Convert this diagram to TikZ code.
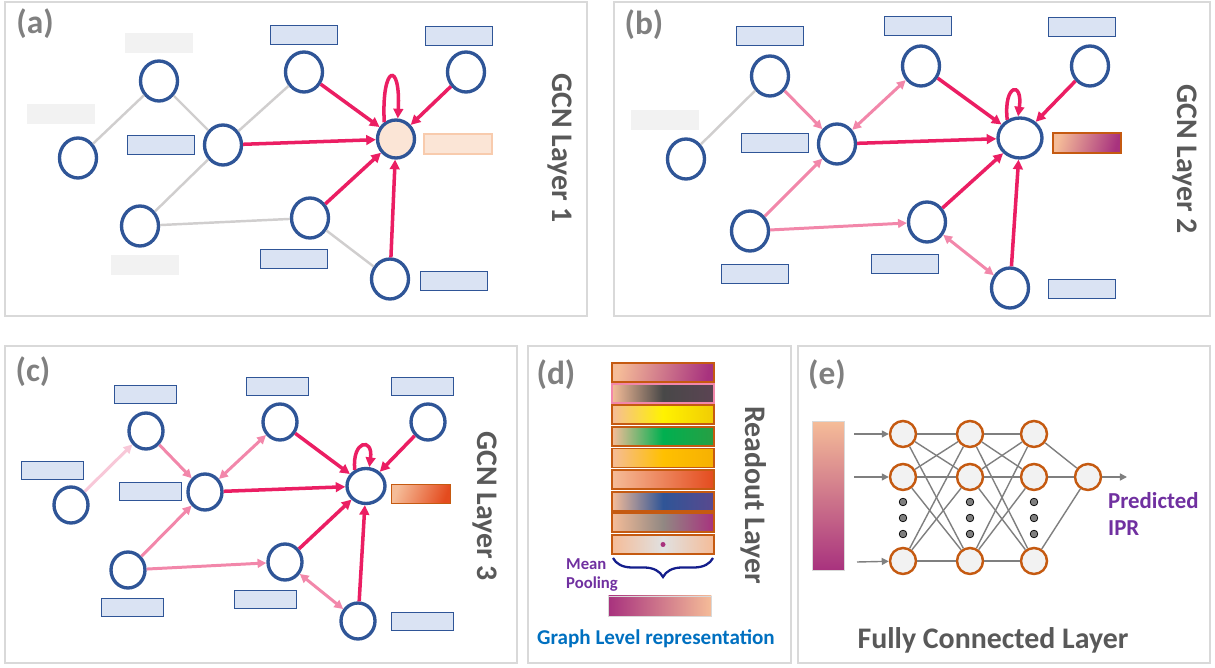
\documentclass[tikz,border=0pt]{standalone}
\usepackage{fontspec}
\setmainfont{Carlito}
\usepackage{xcolor}
\usetikzlibrary{arrows.meta,shapes.geometric,decorations.pathreplacing}
\definecolor{node_blue}{RGB}{47,85,151}
\definecolor{edge_red}{RGB}{235,30,99}
\definecolor{edge_pink}{RGB}{242,135,170}
\definecolor{edge_faint}{RGB}{248,200,216}
\definecolor{edge_grey}{RGB}{208,206,206}
\definecolor{feat_fill}{RGB}{218,227,243}
\definecolor{ghost_fill}{RGB}{242,242,242}
\definecolor{peach}{RGB}{245,188,152}
\definecolor{peach_light}{RGB}{251,229,214}
\definecolor{peach_line}{RGB}{248,203,173}
\definecolor{plum}{RGB}{168,50,126}
\definecolor{rust}{RGB}{197,90,17}
\definecolor{frame_grey}{RGB}{217,217,217}
\definecolor{tag_grey}{RGB}{128,128,128}
\definecolor{title_grey}{RGB}{89,89,89}
\definecolor{ipr_purple}{RGB}{112,48,160}
\definecolor{graph_blue}{RGB}{0,112,192}
\definecolor{brace_navy}{RGB}{20,30,140}
\definecolor{neuron_fill}{RGB}{242,242,242}
\definecolor{wire_grey}{RGB}{127,127,127}
\definecolor{bar_dark}{RGB}{72,72,72}
\definecolor{bar_yellow}{RGB}{255,242,0}
\definecolor{bar_green}{RGB}{0,176,80}
\definecolor{bar_gold}{RGB}{255,192,0}
\definecolor{bar_orange}{RGB}{228,75,30}
\definecolor{bar_blue}{RGB}{47,85,151}

\tikzset{
  panel/.style={draw=frame_grey, line width=1.6pt},
  tagtext/.style={font=\fontsize{19}{21}\selectfont\bfseries, text=tag_grey},
  layertext/.style={font=\fontsize{17}{20}\selectfont\bfseries, text=title_grey, rotate=-90},
  gnode/.style={ellipse, draw=node_blue, line width=1.9pt, fill=white,
    minimum width=0.74cm, minimum height=0.8cm, inner sep=0pt},
  featbox/.style={rectangle, fill=feat_fill, draw=node_blue, line width=0.5pt,
    minimum width=1.34cm, minimum height=0.38cm, inner sep=0pt},
  ghostbox/.style={rectangle, fill=ghost_fill, minimum width=1.36cm, minimum height=0.4cm, inner sep=0pt},
  hbox/.style={rectangle, draw=rust, line width=0.6pt, minimum width=1.36cm, minimum height=0.4cm, inner sep=0pt},
  greyedge/.style={draw=edge_grey, line width=1.4pt},
  redarrow/.style={draw=edge_red, line width=2pt, -{Triangle[length=5.5pt,width=5.5pt]}},
  pinkarrow/.style={draw=edge_pink, line width=1.7pt, -{Triangle[length=5pt,width=5pt]}},
  pinkboth/.style={draw=edge_pink, line width=1.7pt,
    {Triangle[length=5pt,width=5pt]}-{Triangle[length=5pt,width=5pt]}},
  faintarrow/.style={draw=edge_faint, line width=1.7pt, -{Triangle[length=5pt,width=5pt]}},
  bar/.style={rectangle, draw=rust, line width=0.6pt, minimum width=2.04cm, minimum height=0.38cm, inner sep=0pt},
  neuron/.style={circle, draw=rust, line width=1.4pt, fill=neuron_fill, minimum size=0.52cm, inner sep=0pt},
  wire/.style={draw=wire_grey, line width=0.8pt},
  wirearrow/.style={draw=wire_grey, line width=0.8pt, -{Triangle[length=4pt,width=4pt]}}
}

\begin{document}
\begin{tikzpicture}[x=0.02cm, y=-0.02cm]
    \useasboundingbox (0,0) rectangle (1215,668);

    % Panel frames
    \draw[panel] (5,2) rectangle (587,316);
    \draw[panel] (614,2) rectangle (1210,316);
    \draw[panel] (5,346) rectangle (517,663);
    \draw[panel] (528,346) rectangle (791,663);
    \draw[panel] (798,346) rectangle (1210,663);

    % Panel tags
    \node[tagtext] (taga) at (35,24) {(a)};
    \node[tagtext] (tagb) at (644,25) {(b)};
    \node[tagtext] (tagc) at (33,372) {(c)};
    \node[tagtext] (tagd) at (556,375) {(d)};
    \node[tagtext] (tage) at (827,375) {(e)};

    % ---------------- (a) GCN layer 1 ----------------
    \node[ghostbox] (a1f) at (159,43) {};
    \node[ghostbox] (a2f) at (61,114) {};
    \node[featbox] (a3f) at (161,145) {};
    \node[featbox] (a4f) at (304,35) {};
    \node[featbox] (a5f) at (459,36) {};
    \node[hbox, fill=peach_light, draw=peach_line] (a6f) at (458,144) {};
    \node[ghostbox] (a7f) at (145,265) {};
    \node[featbox] (a8f) at (294,259) {};
    \node[featbox] (a9f) at (454,281) {};

    \node[gnode] (a1) at (159,81) {};
    \node[gnode] (a2) at (78,158) {};
    \node[gnode] (a3) at (223,145) {};
    \node[gnode] (a4) at (304,72) {};
    \node[gnode] (a5) at (466,72) {};
    \node[gnode, fill=peach_light, minimum width=0.74cm, minimum height=0.76cm] (a6) at (396,139) {};
    \node[gnode] (a7) at (140,226) {};
    \node[gnode] (a8) at (310,218) {};
    \node[gnode] (a9) at (390,279) {};

    \draw[greyedge] (a2) -- (a1);
    \draw[greyedge] (a1) -- (a3);
    \draw[greyedge] (a3) -- (a4);
    \draw[greyedge] (a3) -- (a7);
    \draw[greyedge] (a7) -- (a8);
    \draw[greyedge] (a8) -- (a9);
    \draw[redarrow] (a4) -- (a6);
    \draw[redarrow] (a5) -- (a6);
    \draw[redarrow] (a3) -- (a6);
    \draw[redarrow] (a8) -- (a6);
    \draw[redarrow] (a9) -- (a6);
    \draw[redarrow] (a6.125) .. controls +(-3,-58) and +(3,-58) .. (a6.85);

    \node[layertext] (gcn1) at (560,148) {GCN Layer 1};

    % ---------------- (b) GCN layer 2 ----------------
    \node[featbox] (b1f) at (770,36) {};
    \node[ghostbox] (b2f) at (665,120) {};
    \node[featbox] (b3f) at (775,143) {};
    \node[featbox] (b4f) at (918,26) {};
    \node[featbox] (b5f) at (1082,27) {};
    \node[hbox, left color=peach, right color=plum, shading angle=75] (b6f) at (1087,143) {};
    \node[featbox] (b7f) at (755,274) {};
    \node[featbox] (b8f) at (905,264) {};
    \node[featbox] (b9f) at (1082,289) {};

    \node[gnode] (b1) at (770,76) {};
    \node[gnode] (b2) at (686,159) {};
    \node[gnode] (b3) at (837,144) {};
    \node[gnode] (b4) at (921,66) {};
    \node[gnode] (b5) at (1090,66) {};
    \node[gnode, minimum width=0.88cm, minimum height=0.8cm] (b6) at (1020,138) {};
    \node[gnode] (b7) at (750,231) {};
    \node[gnode] (b8) at (927,222) {};
    \node[gnode] (b9) at (1010,288) {};

    \draw[greyedge] (b2) -- (b1);
    \draw[pinkarrow] (b1) -- (b3);
    \draw[pinkboth] (b3) -- (b4);
    \draw[pinkarrow] (b7) -- (b3);
    \draw[pinkarrow] (b7) -- (b8);
    \draw[pinkboth] (b8) -- (b9);
    \draw[redarrow] (b4) -- (b6);
    \draw[redarrow] (b5) -- (b6);
    \draw[redarrow] (b3) -- (b6);
    \draw[redarrow] (b8) -- (b6);
    \draw[redarrow] (b9) -- (b6);
    \draw[redarrow] (b6.125) .. controls +(-4,-36) and +(5,-36) .. (b6.95);

    \node[layertext] (gcn2) at (1185,159) {GCN Layer 2};

    % ---------------- (c) GCN layer 3 ----------------
    \node[featbox, minimum width=1.24cm, minimum height=0.36cm] (c1f) at (145,394) {};
    \node[featbox, minimum width=1.24cm, minimum height=0.36cm] (c2f) at (52,470) {};
    \node[featbox, minimum width=1.24cm, minimum height=0.36cm] (c3f) at (150,491) {};
    \node[featbox, minimum width=1.24cm, minimum height=0.36cm] (c4f) at (277,386) {};
    \node[featbox, minimum width=1.24cm, minimum height=0.36cm] (c5f) at (422,386) {};
    \node[hbox, left color=peach, right color=bar_orange, shading angle=70,
      minimum width=1.18cm, minimum height=0.38cm] (c6f) at (421,494) {};
    \node[featbox, minimum width=1.24cm, minimum height=0.36cm] (c7f) at (132,607) {};
    \node[featbox, minimum width=1.24cm, minimum height=0.36cm] (c8f) at (265,599) {};
    \node[featbox, minimum width=1.24cm, minimum height=0.36cm] (c9f) at (422,621) {};

    \node[gnode, minimum width=0.68cm, minimum height=0.72cm] (c1) at (146,431) {};
    \node[gnode, minimum width=0.68cm, minimum height=0.72cm] (c2) at (71,505) {};
    \node[gnode, minimum width=0.68cm, minimum height=0.72cm] (c3) at (205,492) {};
    \node[gnode, minimum width=0.68cm, minimum height=0.72cm] (c4) at (280,422) {};
    \node[gnode, minimum width=0.68cm, minimum height=0.72cm] (c5) at (428,422) {};
    \node[gnode, minimum width=0.76cm, minimum height=0.7cm] (c6) at (366,486) {};
    \node[gnode, minimum width=0.68cm, minimum height=0.72cm] (c7) at (128,570) {};
    \node[gnode, minimum width=0.68cm, minimum height=0.72cm] (c8) at (285,562) {};
    \node[gnode, minimum width=0.68cm, minimum height=0.72cm] (c9) at (358,621) {};

    \draw[faintarrow] (c2) -- (c1);
    \draw[pinkarrow] (c1) -- (c3);
    \draw[pinkboth] (c3) -- (c4);
    \draw[pinkarrow] (c7) -- (c3);
    \draw[pinkarrow] (c7) -- (c8);
    \draw[pinkboth] (c8) -- (c9);
    \draw[redarrow] (c4) -- (c6);
    \draw[redarrow] (c5) -- (c6);
    \draw[redarrow] (c3) -- (c6);
    \draw[redarrow] (c8) -- (c6);
    \draw[redarrow] (c9) -- (c6);
    \draw[redarrow] (c6.125) .. controls +(-3,-30) and +(4,-30) .. (c6.80);

    \node[layertext] (gcn3) at (485,506) {GCN Layer 3};

    % ---------------- (d) Readout ----------------
    \node[bar, left color=peach, right color=plum, shading angle=80] (bar1) at (663,372.5) {};
    \node[bar, draw=edge_pink, left color=peach, right color=bar_dark!80!plum, middle color=bar_dark] (bar2) at (663,393.5) {};
    \node[bar, left color=peach, right color=bar_yellow!75!rust, middle color=bar_yellow] (bar3) at (663,414.5) {};
    \node[bar, left color=peach, right color=bar_green!80!rust, middle color=bar_green] (bar4) at (663,436.5) {};
    \node[bar, left color=peach, right color=bar_gold!85!rust, middle color=bar_gold] (bar5) at (663,458) {};
    \node[bar, left color=peach, right color=bar_orange, middle color=peach!50!bar_orange] (bar6) at (663,479.5) {};
    \node[bar, left color=peach, right color=bar_blue!65!plum, middle color=bar_blue] (bar7) at (663,501.5) {};
    \node[bar, left color=peach, right color=plum, middle color=wire_grey!85!peach] (bar8) at (663,522.5) {};
    \node[bar, left color=peach, right color=peach, middle color=black!12] (bar9) at (663,544.5) {};
    \fill[plum] (bar9.center) circle (2.5);

    \coordinate (brace_r) at (713,558);
    \coordinate (brace_l) at (613,558);
    \draw[brace_navy, line width=1.3pt, decorate, decoration={brace, amplitude=0.38cm}] (brace_r) -- (brace_l);
    \node[font=\fontsize{9.5}{10.5}\selectfont\bfseries, text=ipr_purple, align=left, anchor=west] (pool) at (560,575) {Mean\\Pooling};

    \node[rectangle, draw=frame_grey, line width=0.5pt, left color=plum, right color=peach,
      minimum width=2.06cm, minimum height=0.4cm, inner sep=0pt] (gvec) at (660,606) {};
    \node[font=\fontsize{12}{14}\selectfont\bfseries, text=graph_blue] (glabel) at (656,639) {Graph Level representation};

    \node[layertext] (readout) at (754,495) {Readout Layer};

    % ---------------- (e) Fully connected ----------------
    \node[rectangle, draw=frame_grey, line width=0.5pt, top color=peach, bottom color=plum,
      minimum width=0.64cm, minimum height=2.98cm, inner sep=0pt] (ebar) at (828,496) {};

    \foreach \c/\x in {1/903,2/970,3/1034}
      \foreach \r/\y in {1/434,2/477,3/561}
        \node[neuron] (n\c\r) at (\x,\y) {};
    \node[neuron] (out) at (1088,477) {};

    \foreach \c/\d in {1/2,2/3}
      \foreach \r in {1,2,3}
        \foreach \s in {1,2,3}
          \draw[wire] (n\c\r) -- (n\d\s);
    \foreach \r in {1,2,3}
      \draw[wire] (n3\r) -- (out);

    \foreach \x in {903,970,1034}
      \foreach \y in {502,518,534}
        \filldraw[fill=wire_grey, draw=black, line width=0.4pt] (\x,\y) circle (3.8);

    \coordinate (in1) at (854,434);
    \coordinate (in2) at (854,477);
    \coordinate (in3) at (857,562);
    \coordinate (ipr) at (1127,477);
    \draw[wirearrow] (in1) -- (n11);
    \draw[wirearrow] (in2) -- (n12);
    \draw[wirearrow] (in3) -- (n13);
    \draw[wirearrow] (out) -- (ipr);

    \node[font=\fontsize{13}{15.5}\selectfont\bfseries, text=ipr_purple, align=left, anchor=west] (pred) at (1102,514) {Predicted\\IPR};
    \node[font=\fontsize{17}{20}\selectfont\bfseries, text=title_grey] (fclabel) at (993,640) {Fully Connected Layer};
\end{tikzpicture}
\end{document}
